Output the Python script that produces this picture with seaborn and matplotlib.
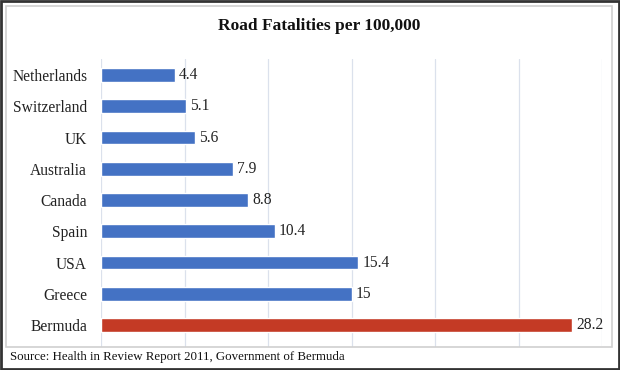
import pandas as pd
import matplotlib.pyplot as plt
import seaborn as sns
from matplotlib.patches import Rectangle

# Данные
countries = ['Netherlands', 'Switzerland', 'UK', 'Australia', 'Canada',
             'Spain', 'USA', 'Greece', 'Bermuda']
rates = [4.4, 5.1, 5.6, 7.9, 8.8, 10.4, 15.4, 15, 28.2]
labels = ['4.4', '5.1', '5.6', '7.9', '8.8', '10.4', '15.4', '15', '28.2']

df = pd.DataFrame({'country': countries, 'rate': rates})
colors = ['#4472C4'] * 8 + ['#C43A25']

sns.set_style('white')
plt.rcParams['font.family'] = ['Liberation Serif', 'DejaVu Serif']

fig = plt.figure(figsize=(6.2, 3.7), dpi=100)
ax = fig.add_axes([0.163, 0.0624, 0.808, 0.777])

sns.barplot(data=df, y='country', x='rate', hue='country', palette=colors,
            legend=False, width=0.44, ax=ax, saturation=1)

ax.set_xlim(0, 30)
ax.set_ylim(8.7, -0.5)
ax.set_xticks(range(0, 31, 5))
ax.set_xticklabels([])
ax.grid(axis='x', color='#dbe1ec', linewidth=0.9)
ax.set_axisbelow(True)
for s in ax.spines.values():
    s.set_visible(False)
ax.tick_params(axis='x', length=0)
ax.tick_params(axis='y', length=0, pad=10, labelsize=11.2, labelcolor='#222222')
ax.set_xlabel('')
ax.set_ylabel('')

# Подписи значений
for i, (v, t) in enumerate(zip(rates, labels)):
    ax.text(v + 0.25, i, t, va='center', ha='left', fontsize=11.2,
            color='#222222', clip_on=False)

fig.text(0.515, 0.93, 'Road Fatalities per 100,000', ha='center', va='center',
         fontsize=12.5, fontweight='bold', color='#111111')
fig.text(0.016, 0.035, 'Source: Health in Review Report 2011, Government of Bermuda',
         ha='left', va='center', fontsize=9.3, color='#111111')

# Рамки
fig.patches.append(Rectangle((0.01, 0.062), 0.977, 0.923, transform=fig.transFigure,
                             fill=False, edgecolor='#d0d0d0', linewidth=1.2))
fig.patches.append(Rectangle((0.0015, 0.0025), 0.997, 0.995, transform=fig.transFigure,
                             fill=False, edgecolor='#333333', linewidth=2))

fig.savefig('out.png', dpi=100)
